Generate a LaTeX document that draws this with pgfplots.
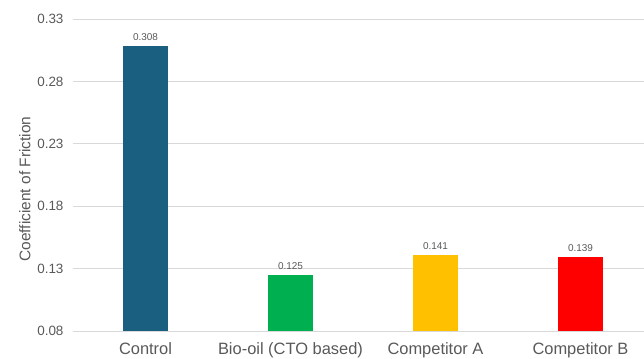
\documentclass[border=0pt]{standalone}
\usepackage{pgfplots}
\pgfplotsset{compat=1.18}
\usepackage{fontspec}
\setmainfont{Liberation Sans}
\definecolor{txt}{HTML}{595959}
\definecolor{gridc}{HTML}{D9D9D9}
\definecolor{cctrl}{HTML}{1A5E80}
\definecolor{cbio}{HTML}{00B050}
\definecolor{ccompa}{HTML}{FFC000}
\definecolor{ccompb}{HTML}{FF0000}
\begin{document}
\begin{tikzpicture}[x=1bp,y=1bp]
\begin{axis}[
  at={(0,0)}, anchor=south west,
  scale only axis,
  width=571bp, height=312bp,
  xmin=-0.5, xmax=3.438,
  ymin=0.08, ymax=0.33,
  ytick={0.08,0.13,0.18,0.23,0.28,0.33},
  yticklabel style={/pgf/number format/fixed,/pgf/number format/precision=2,/pgf/number format/fixed zerofill,
     font=\fontsize{13.5}{15}\selectfont, text=txt, xshift=-6bp},
  /pgf/number format/assume math mode=true,
  xtick={0,1,2,3},
  xticklabels={Control,Bio-oil (CTO based),Competitor A,Competitor B},
  xticklabel style={font=\fontsize{16.5}{18}\selectfont, text=txt, yshift=-8bp},
  major tick length=0pt,
  axis line style={draw=none},
  ymajorgrids, grid style={gridc, line width=0.8pt},
  ylabel={Coefficient of Friction},
  ylabel style={font=\fontsize{15.5}{17}\selectfont, text=txt},
  every axis y label/.append style={at={(ticklabel cs:0.5)}, xshift=-14bp},
  ybar, bar width=0.31, bar shift=0pt,
  nodes near coords,
  nodes near coords style={font=\fontsize{10}{11}\selectfont, text=txt, /pgf/number format/fixed,/pgf/number format/precision=3, yshift=2bp},
  clip=false,
]
\addplot[fill=cctrl, draw=none] coordinates {(0,0.308)};
\addplot[fill=cbio, draw=none] coordinates {(1,0.125)};
\addplot[fill=ccompa, draw=none] coordinates {(2,0.141)};
\addplot[fill=ccompb, draw=none] coordinates {(3,0.139)};
\end{axis}
\pgfresetboundingbox
\useasboundingbox (-73,-27) rectangle (571,331);
\end{tikzpicture}
\end{document}
